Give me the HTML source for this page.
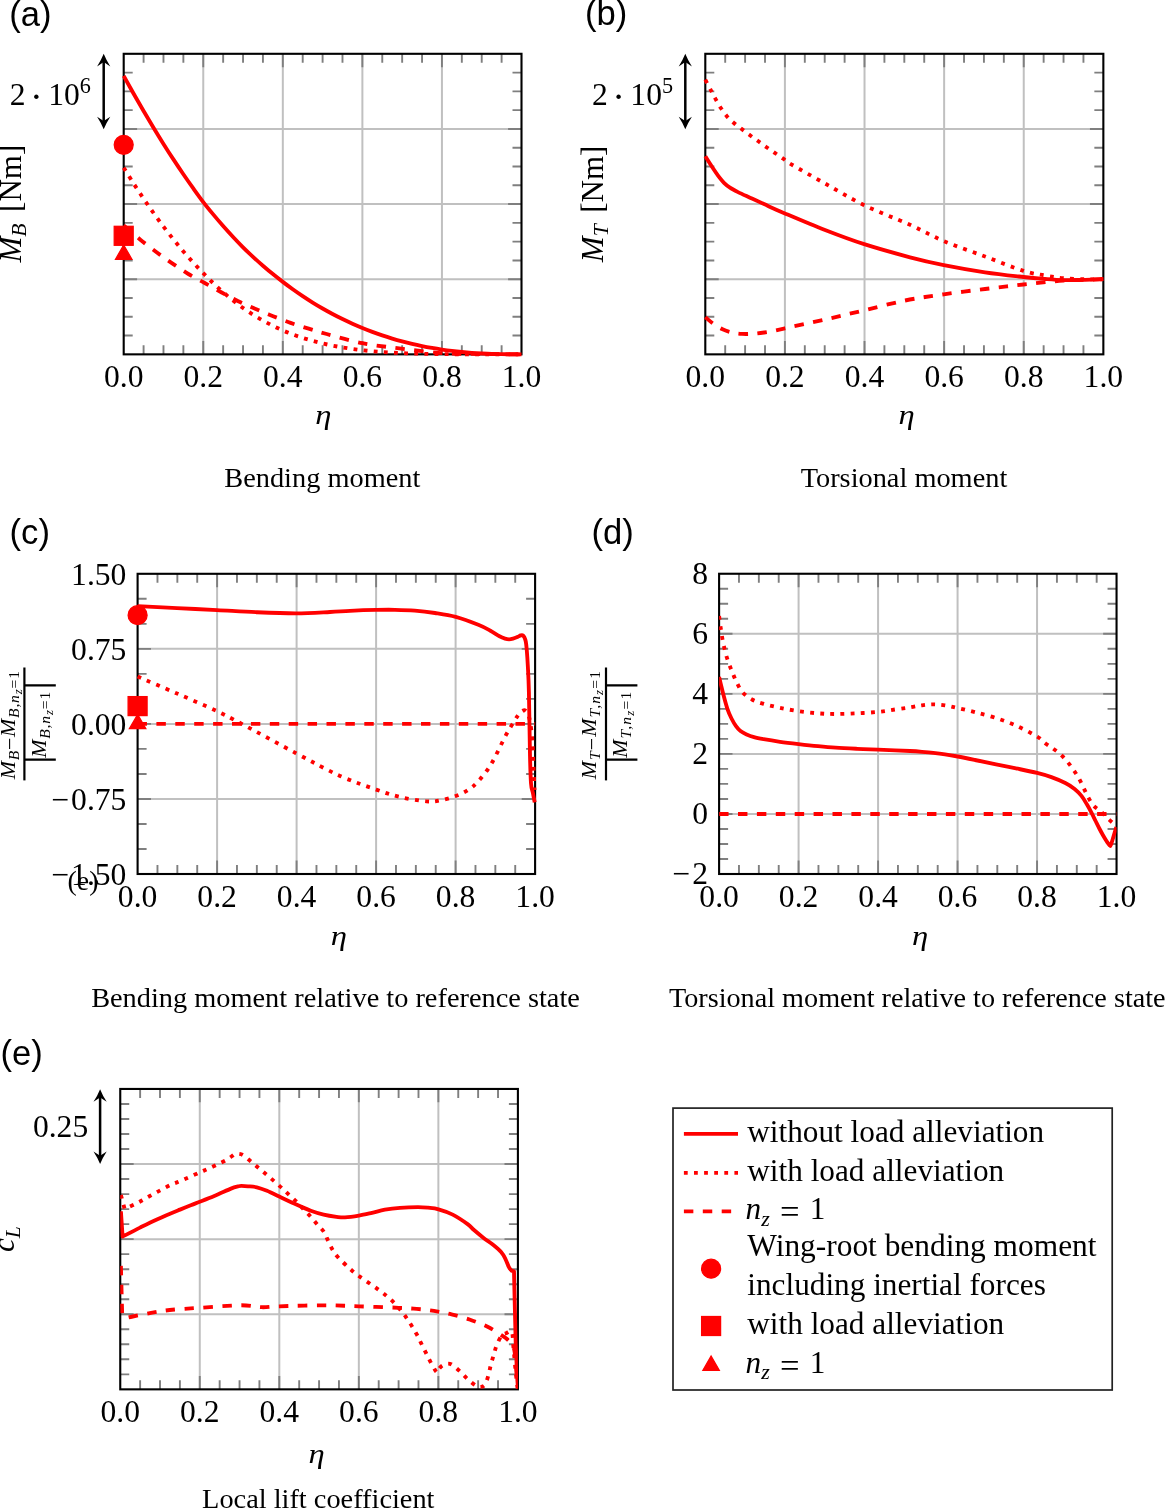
<!DOCTYPE html>
<html><head><meta charset="utf-8"><title>figure</title>
<style>html,body{margin:0;padding:0;background:#fff}svg{display:block;will-change:transform}text{fill:#000}</style></head><body>
<svg width="1166" height="1510" viewBox="0 0 1166 1510">
<rect width="1166" height="1510" fill="#fff"/>
<clipPath id="clipa"><rect x="117.7" y="47.8" width="409.8" height="312.55"/></clipPath>
<path d="M203.26 53.8V354.35M282.82 53.8V354.35M362.38 53.8V354.35M441.94 53.8V354.35M123.7 128.94H521.5M123.7 204.07H521.5M123.7 279.21H521.5" stroke="#c0c0c0" stroke-width="2" fill="none"/>
<path d="M143.59 53.8v9M143.59 354.35v-9M163.48 53.8v9M163.48 354.35v-9M183.37 53.8v9M183.37 354.35v-9M203.26 53.8v13.4M203.26 354.35v-13.4M223.15 53.8v9M223.15 354.35v-9M243.04 53.8v9M243.04 354.35v-9M262.93 53.8v9M262.93 354.35v-9M282.82 53.8v13.4M282.82 354.35v-13.4M302.71 53.8v9M302.71 354.35v-9M322.6 53.8v9M322.6 354.35v-9M342.49 53.8v9M342.49 354.35v-9M362.38 53.8v13.4M362.38 354.35v-13.4M382.27 53.8v9M382.27 354.35v-9M402.16 53.8v9M402.16 354.35v-9M422.05 53.8v9M422.05 354.35v-9M441.94 53.8v13.4M441.94 354.35v-13.4M461.83 53.8v9M461.83 354.35v-9M481.72 53.8v9M481.72 354.35v-9M501.61 53.8v9M501.61 354.35v-9M123.7 72.58h9M521.5 72.58h-9M123.7 91.37h9M521.5 91.37h-9M123.7 110.15h9M521.5 110.15h-9M123.7 128.94h13.4M521.5 128.94h-13.4M123.7 147.72h9M521.5 147.72h-9M123.7 166.51h9M521.5 166.51h-9M123.7 185.29h9M521.5 185.29h-9M123.7 204.07h13.4M521.5 204.07h-13.4M123.7 222.86h9M521.5 222.86h-9M123.7 241.64h9M521.5 241.64h-9M123.7 260.43h9M521.5 260.43h-9M123.7 279.21h13.4M521.5 279.21h-13.4M123.7 298h9M521.5 298h-9M123.7 316.78h9M521.5 316.78h-9M123.7 335.57h9M521.5 335.57h-9" stroke="#7f7f7f" stroke-width="1.9" fill="none"/>
<rect x="123.7" y="53.8" width="397.8" height="300.55" fill="none" stroke="#000" stroke-width="2.1"/>
<path d="M123.7 75.85 C125.36 78.82 130.33 87.83 133.65 93.69 C136.96 99.55 140.28 105.32 143.59 111 C146.91 116.67 150.22 122.26 153.53 127.74 C156.85 133.23 160.17 138.64 163.48 143.92 C166.8 149.2 170.11 154.35 173.43 159.4 C176.74 164.46 180.06 169.41 183.37 174.26 C186.69 179.1 190 183.85 193.31 188.48 C196.63 193.11 199.94 197.74 203.26 202.06 C206.57 206.37 209.89 210.38 213.21 214.37 C216.52 218.36 219.84 222.23 223.15 225.99 C226.47 229.76 229.78 233.41 233.1 236.95 C236.41 240.5 239.73 243.97 243.04 247.28 C246.36 250.58 249.67 253.72 252.99 256.79 C256.3 259.86 259.62 262.83 262.93 265.71 C266.25 268.59 269.56 271.37 272.88 274.06 C276.19 276.75 279.5 279.33 282.82 281.86 C286.13 284.4 289.45 286.88 292.76 289.27 C296.08 291.65 299.4 293.94 302.71 296.16 C306.03 298.38 309.34 300.51 312.65 302.57 C315.97 304.63 319.29 306.61 322.6 308.51 C325.92 310.42 329.23 312.24 332.55 314 C335.86 315.76 339.18 317.44 342.49 319.06 C345.81 320.67 349.12 322.22 352.44 323.7 C355.75 325.18 359.06 326.58 362.38 327.94 C365.69 329.3 369.01 330.61 372.32 331.85 C375.64 333.09 378.95 334.26 382.27 335.38 C385.58 336.5 388.9 337.55 392.22 338.55 C395.53 339.55 398.84 340.49 402.16 341.38 C405.47 342.26 408.79 343.09 412.1 343.87 C415.42 344.66 418.74 345.38 422.05 346.06 C425.37 346.74 428.68 347.36 432 347.95 C435.31 348.53 438.62 349.06 441.94 349.55 C445.25 350.04 448.57 350.49 451.88 350.89 C455.2 351.29 458.51 351.65 461.83 351.98 C465.14 352.3 468.46 352.58 471.77 352.83 C475.09 353.08 478.41 353.29 481.72 353.47 C485.04 353.65 488.35 353.8 491.67 353.92 C494.98 354.04 498.29 354.12 501.61 354.19 C504.92 354.26 508.24 354.29 511.56 354.32 C514.87 354.35 519.84 354.35 521.5 354.35" fill="none" stroke="#ff0000" stroke-width="3.85" clip-path="url(#clipa)" stroke-linejoin="round"/>
<path d="M123.7 167.65 C125.36 170.3 130.33 178.4 133.65 183.57 C136.96 188.74 140.28 193.76 143.59 198.66 C146.91 203.57 150.22 208.34 153.53 213 C156.85 217.66 160.17 222.2 163.48 226.6 C166.8 231.01 170.11 235.28 173.43 239.42 C176.74 243.56 180.06 247.57 183.37 251.45 C186.69 255.33 190 259.07 193.31 262.69 C196.63 266.3 199.94 269.72 203.26 273.13 C206.57 276.53 209.89 279.93 213.21 283.12 C216.52 286.3 219.84 289.34 223.15 292.24 C226.47 295.14 229.78 297.9 233.1 300.53 C236.41 303.16 239.73 305.66 243.04 308.01 C246.36 310.36 249.67 312.53 252.99 314.62 C256.3 316.7 259.62 318.67 262.93 320.54 C266.25 322.4 269.56 324.15 272.88 325.81 C276.19 327.47 279.5 329.03 282.82 330.47 C286.13 331.91 289.45 333.2 292.76 334.44 C296.08 335.67 299.4 336.81 302.71 337.88 C306.03 338.95 309.34 339.93 312.65 340.86 C315.97 341.78 319.29 342.63 322.6 343.42 C325.92 344.2 329.23 344.92 332.55 345.58 C335.86 346.24 339.18 346.85 342.49 347.4 C345.81 347.96 349.12 348.46 352.44 348.93 C355.75 349.39 359.06 349.81 362.38 350.18 C365.69 350.56 369.01 350.87 372.32 351.17 C375.64 351.47 378.95 351.73 382.27 351.97 C385.58 352.21 388.9 352.42 392.22 352.61 C395.53 352.8 398.84 352.96 402.16 353.11 C405.47 353.25 408.79 353.38 412.1 353.49 C415.42 353.6 418.74 353.69 422.05 353.77 C425.37 353.85 428.68 353.92 432 353.98 C435.31 354.04 438.62 354.08 441.94 354.12 C445.25 354.16 448.57 354.2 451.88 354.22 C455.2 354.25 458.51 354.27 461.83 354.28 C465.14 354.3 468.46 354.31 471.77 354.32 C475.09 354.33 478.41 354.33 481.72 354.34 C485.04 354.34 488.35 354.34 491.67 354.35 C494.98 354.35 498.29 354.35 501.61 354.35 C504.92 354.35 508.24 354.35 511.56 354.35 C514.87 354.35 519.84 354.35 521.5 354.35" fill="none" stroke="#ff0000" stroke-width="3.85" stroke-dasharray="3.85 6.3" clip-path="url(#clipa)" stroke-linejoin="round"/>
<path d="M123.7 225.6 C125.25 226.88 129.87 230.67 133 233.3 C136.13 235.93 138.52 238.2 142.5 241.4 C146.48 244.6 151.95 248.85 156.9 252.5 C161.85 256.15 166.95 259.72 172.2 263.3 C177.45 266.88 182.98 270.72 188.4 274 C193.82 277.28 199.15 279.92 204.7 283 C210.25 286.08 216.12 289.47 221.7 292.5 C227.28 295.53 232.53 298.45 238.2 301.2 C243.87 303.95 249.88 306.5 255.7 309 C261.52 311.5 267.28 313.88 273.1 316.2 C278.92 318.52 284.67 320.82 290.6 322.9 C296.53 324.98 302.68 326.85 308.7 328.7 C314.72 330.55 317.77 331.58 326.7 334 C335.63 336.42 349.9 340.77 362.3 343.2 C374.7 345.63 387.73 346.95 401.1 348.6 C414.47 350.25 429.02 352.2 442.5 353.1 C455.98 354 468.83 353.8 482 354 C495.17 354.2 514.92 354.25 521.5 354.3" fill="none" stroke="#ff0000" stroke-width="3.85" stroke-dasharray="9.45 9.45" clip-path="url(#clipa)" stroke-linejoin="round"/>
<circle cx="123.7" cy="144.8" r="9.5" fill="#ff0000" stroke="#ff0000" stroke-width="1.25"/>
<path d="M123.7 245L131.93 259.25L115.47 259.25Z" fill="#ff0000" stroke="#ff0000" stroke-width="1.25"/>
<rect x="114.2" y="226.3" width="19" height="19" fill="#ff0000" stroke="#ff0000" stroke-width="1.25"/>
<text x="123.7" y="386.8" font-family='"Liberation Serif", serif' font-size="31.6" text-anchor="middle">0.0</text>
<text x="203.26" y="386.8" font-family='"Liberation Serif", serif' font-size="31.6" text-anchor="middle">0.2</text>
<text x="282.82" y="386.8" font-family='"Liberation Serif", serif' font-size="31.6" text-anchor="middle">0.4</text>
<text x="362.38" y="386.8" font-family='"Liberation Serif", serif' font-size="31.6" text-anchor="middle">0.6</text>
<text x="441.94" y="386.8" font-family='"Liberation Serif", serif' font-size="31.6" text-anchor="middle">0.8</text>
<text x="521.5" y="386.8" font-family='"Liberation Serif", serif' font-size="31.6" text-anchor="middle">1.0</text>
<text transform="translate(323.3 424.3) scale(1.16 1)" font-family='"Liberation Serif", serif' font-size="28.2" font-style="italic" text-anchor="middle">η</text>
<text x="322.3" y="486.6" font-family='"Liberation Serif", serif' font-size="28.35" text-anchor="middle">Bending moment</text>
<text x="9.3" y="25.5" font-family='"Liberation Sans", sans-serif' font-size="34.6" text-anchor="start">(a)</text>
<text x="9.7" y="105" font-family='"Liberation Serif", serif' font-size="31.6">2<tspan dx="4.6" dy="4.4" font-size="38">·</tspan><tspan dx="5.4" dy="-4.4">10</tspan><tspan dy="-12" font-size="22.2">6</tspan></text>
<path d="M103.7 57.8V125.3" stroke="#000" stroke-width="2.5"/>
<path d="M103.7 53.8 Q101.1 60.3 97.1 66.4 L103.7 62 L110.3 66.4 Q106.3 60.3 103.7 53.8Z" fill="#000"/>
<path d="M103.7 129.3 Q101.1 122.8 97.1 116.7 L103.7 121.1 L110.3 116.7 Q106.3 122.8 103.7 129.3Z" fill="#000"/>
<text transform="translate(21.3 262.5) rotate(-90)" font-family='"Liberation Serif", serif' font-size="31"><tspan font-style="italic">M</tspan><tspan font-style="italic" font-size="21.7" dy="5">B</tspan><tspan dy="-5" dx="3.8"> [Nm]</tspan></text>
<clipPath id="clipb"><rect x="699.3" y="47.8" width="410.05" height="312.55"/></clipPath>
<path d="M784.91 53.8V354.35M864.52 53.8V354.35M944.13 53.8V354.35M1023.74 53.8V354.35M705.3 128.94H1103.35M705.3 204.07H1103.35M705.3 279.21H1103.35" stroke="#c0c0c0" stroke-width="2" fill="none"/>
<path d="M725.2 53.8v9M725.2 354.35v-9M745.1 53.8v9M745.1 354.35v-9M765.01 53.8v9M765.01 354.35v-9M784.91 53.8v13.4M784.91 354.35v-13.4M804.81 53.8v9M804.81 354.35v-9M824.71 53.8v9M824.71 354.35v-9M844.62 53.8v9M844.62 354.35v-9M864.52 53.8v13.4M864.52 354.35v-13.4M884.42 53.8v9M884.42 354.35v-9M904.32 53.8v9M904.32 354.35v-9M924.23 53.8v9M924.23 354.35v-9M944.13 53.8v13.4M944.13 354.35v-13.4M964.03 53.8v9M964.03 354.35v-9M983.93 53.8v9M983.93 354.35v-9M1003.84 53.8v9M1003.84 354.35v-9M1023.74 53.8v13.4M1023.74 354.35v-13.4M1043.64 53.8v9M1043.64 354.35v-9M1063.54 53.8v9M1063.54 354.35v-9M1083.45 53.8v9M1083.45 354.35v-9M705.3 72.58h9M1103.35 72.58h-9M705.3 91.37h9M1103.35 91.37h-9M705.3 110.15h9M1103.35 110.15h-9M705.3 128.94h13.4M1103.35 128.94h-13.4M705.3 147.72h9M1103.35 147.72h-9M705.3 166.51h9M1103.35 166.51h-9M705.3 185.29h9M1103.35 185.29h-9M705.3 204.07h13.4M1103.35 204.07h-13.4M705.3 222.86h9M1103.35 222.86h-9M705.3 241.64h9M1103.35 241.64h-9M705.3 260.43h9M1103.35 260.43h-9M705.3 279.21h13.4M1103.35 279.21h-13.4M705.3 298h9M1103.35 298h-9M705.3 316.78h9M1103.35 316.78h-9M705.3 335.57h9M1103.35 335.57h-9" stroke="#7f7f7f" stroke-width="1.9" fill="none"/>
<rect x="705.3" y="53.8" width="398.05" height="300.55" fill="none" stroke="#000" stroke-width="2.1"/>
<path d="M705.3 79.7 C706.28 81.57 709.43 87.58 711.2 90.9 C712.97 94.22 714.27 96.72 715.9 99.6 C717.53 102.48 719.15 105.4 721 108.2 C722.85 111 724.8 113.88 727 116.4 C729.2 118.92 731.67 121.13 734.2 123.3 C736.73 125.47 739.52 127.37 742.2 129.4 C744.88 131.43 747.6 133.52 750.3 135.5 C753 137.48 755.7 139.35 758.4 141.3 C761.1 143.25 763.77 145.27 766.5 147.2 C769.23 149.13 772.02 150.98 774.8 152.9 C777.58 154.82 780.45 156.8 783.2 158.7 C785.95 160.6 784.33 160.17 791.3 164.3 C798.27 168.43 812.85 176.68 825 183.5 C837.15 190.32 850.03 198.32 864.2 205.2 C878.37 212.08 896.73 218.82 910 224.8 C923.27 230.78 931.3 235.82 943.8 241.1 C956.3 246.38 971.72 251.53 985 256.5 C998.28 261.47 1013.5 267.73 1023.5 270.9 C1033.5 274.07 1038.37 274.28 1045 275.5 C1051.63 276.72 1056.63 277.57 1063.3 278.2 C1069.97 278.83 1078.33 279.13 1085 279.3 C1091.67 279.47 1100.25 279.22 1103.3 279.2" fill="none" stroke="#ff0000" stroke-width="3.85" stroke-dasharray="3.85 6.3" clip-path="url(#clipb)" stroke-linejoin="round"/>
<path d="M705.3 156.2 C706.42 157.95 709.72 163.25 712 166.7 C714.28 170.15 717 174.22 719 176.9 C721 179.58 722.17 181 724 182.8 C725.83 184.6 727.67 186.15 730 187.7 C732.33 189.25 734.67 190.43 738 192.1 C741.33 193.77 745.67 195.7 750 197.7 C754.33 199.7 758.18 201.48 764 204.1 C769.82 206.72 774.73 209.08 784.9 213.4 C795.07 217.72 811.78 224.87 825 230 C838.22 235.13 850.03 239.65 864.2 244.2 C878.37 248.75 896.73 253.82 910 257.3 C923.27 260.78 931.3 262.6 943.8 265.1 C956.3 267.6 971.72 270.32 985 272.3 C998.28 274.28 1013.5 275.88 1023.5 277 C1033.5 278.12 1038.37 278.48 1045 279 C1051.63 279.52 1056.63 279.97 1063.3 280.1 C1069.97 280.23 1078.33 279.98 1085 279.8 C1091.67 279.62 1100.25 279.13 1103.3 279" fill="none" stroke="#ff0000" stroke-width="3.85" clip-path="url(#clipb)" stroke-linejoin="round"/>
<path d="M705.3 317.2 C706.58 318.25 710.22 321.53 713 323.5 C715.78 325.47 718.83 327.5 722 329 C725.17 330.5 728.67 331.68 732 332.5 C735.33 333.32 738.17 333.72 742 333.9 C745.83 334.08 750.33 334 755 333.6 C759.67 333.2 765.02 332.38 770 331.5 C774.98 330.62 775.73 330.3 784.9 328.3 C794.07 326.3 811.78 322.5 825 319.5 C838.22 316.5 850.83 313.47 864.2 310.3 C877.57 307.13 891.93 303.17 905.2 300.5 C918.47 297.83 930.5 296.22 943.8 294.3 C957.1 292.38 971.72 290.63 985 289 C998.28 287.37 1010.45 285.88 1023.5 284.5 C1036.55 283.12 1050 281.57 1063.3 280.7 C1076.6 279.83 1096.63 279.53 1103.3 279.3" fill="none" stroke="#ff0000" stroke-width="3.85" stroke-dasharray="9.45 9.45" clip-path="url(#clipb)" stroke-linejoin="round"/>
<text x="705.3" y="386.8" font-family='"Liberation Serif", serif' font-size="31.6" text-anchor="middle">0.0</text>
<text x="784.91" y="386.8" font-family='"Liberation Serif", serif' font-size="31.6" text-anchor="middle">0.2</text>
<text x="864.52" y="386.8" font-family='"Liberation Serif", serif' font-size="31.6" text-anchor="middle">0.4</text>
<text x="944.13" y="386.8" font-family='"Liberation Serif", serif' font-size="31.6" text-anchor="middle">0.6</text>
<text x="1023.74" y="386.8" font-family='"Liberation Serif", serif' font-size="31.6" text-anchor="middle">0.8</text>
<text x="1103.35" y="386.8" font-family='"Liberation Serif", serif' font-size="31.6" text-anchor="middle">1.0</text>
<text transform="translate(906.6 424.3) scale(1.16 1)" font-family='"Liberation Serif", serif' font-size="28.2" font-style="italic" text-anchor="middle">η</text>
<text x="904" y="486.6" font-family='"Liberation Serif", serif' font-size="28.35" text-anchor="middle">Torsional moment</text>
<text x="585" y="25.1" font-family='"Liberation Sans", sans-serif' font-size="34.6" text-anchor="start">(b)</text>
<text x="591.9" y="105" font-family='"Liberation Serif", serif' font-size="31.6">2<tspan dx="4.6" dy="4.4" font-size="38">·</tspan><tspan dx="5.4" dy="-4.4">10</tspan><tspan dy="-12" font-size="22.2">5</tspan></text>
<path d="M685.3 57.8V125.3" stroke="#000" stroke-width="2.5"/>
<path d="M685.3 53.8 Q682.7 60.3 678.7 66.4 L685.3 62 L691.9 66.4 Q687.9 60.3 685.3 53.8Z" fill="#000"/>
<path d="M685.3 129.3 Q682.7 122.8 678.7 116.7 L685.3 121.1 L691.9 116.7 Q687.9 122.8 685.3 129.3Z" fill="#000"/>
<text transform="translate(603.2 262.2) rotate(-90)" font-family='"Liberation Serif", serif' font-size="31"><tspan font-style="italic">M</tspan><tspan font-style="italic" font-size="21.7" dy="5">T</tspan><tspan dy="-5" dx="3.8"> [Nm]</tspan></text>
<clipPath id="clipc"><rect x="131.6" y="567.8" width="409.5" height="312.2"/></clipPath>
<path d="M217.1 573.8V874M296.6 573.8V874M376.1 573.8V874M455.6 573.8V874M137.6 648.85H535.1M137.6 723.9H535.1M137.6 798.95H535.1" stroke="#c0c0c0" stroke-width="2" fill="none"/>
<path d="M157.47 573.8v9M157.47 874v-9M177.35 573.8v9M177.35 874v-9M197.22 573.8v9M197.22 874v-9M217.1 573.8v13.4M217.1 874v-13.4M236.97 573.8v9M236.97 874v-9M256.85 573.8v9M256.85 874v-9M276.73 573.8v9M276.73 874v-9M296.6 573.8v13.4M296.6 874v-13.4M316.48 573.8v9M316.48 874v-9M336.35 573.8v9M336.35 874v-9M356.23 573.8v9M356.23 874v-9M376.1 573.8v13.4M376.1 874v-13.4M395.98 573.8v9M395.98 874v-9M415.85 573.8v9M415.85 874v-9M435.73 573.8v9M435.73 874v-9M455.6 573.8v13.4M455.6 874v-13.4M475.48 573.8v9M475.48 874v-9M495.35 573.8v9M495.35 874v-9M515.23 573.8v9M515.23 874v-9M137.6 598.82h9M535.1 598.82h-9M137.6 623.83h9M535.1 623.83h-9M137.6 648.85h13.4M535.1 648.85h-13.4M137.6 673.87h9M535.1 673.87h-9M137.6 698.88h9M535.1 698.88h-9M137.6 723.9h13.4M535.1 723.9h-13.4M137.6 748.92h9M535.1 748.92h-9M137.6 773.93h9M535.1 773.93h-9M137.6 798.95h13.4M535.1 798.95h-13.4M137.6 823.97h9M535.1 823.97h-9M137.6 848.98h9M535.1 848.98h-9" stroke="#7f7f7f" stroke-width="1.9" fill="none"/>
<rect x="137.6" y="573.8" width="397.5" height="300.2" fill="none" stroke="#000" stroke-width="2.1"/>
<path d="M137.6 606.2 C144.17 606.52 163.75 607.45 177 608.1 C190.25 608.75 203.93 609.42 217.1 610.1 C230.27 610.78 242.85 611.67 256 612.2 C269.15 612.73 283.67 613.33 296 613.3 C308.33 613.27 321 612.42 330 612 C339 611.58 342.3 611.15 350 610.8 C357.7 610.45 368.7 610.07 376.2 609.9 C383.7 609.73 388.57 609.68 395 609.8 C401.43 609.92 408.13 610.07 414.8 610.6 C421.47 611.13 428.18 611.95 435 613 C441.82 614.05 448.48 614.93 455.7 616.9 C462.92 618.87 472.58 622.53 478.3 624.8 C484.02 627.07 486.47 628.58 490 630.5 C493.53 632.42 497 634.95 499.5 636.3 C502 637.65 503.4 638.1 505 638.6 C506.6 639.1 507.77 639.3 509.1 639.3 C510.43 639.3 511.6 639 513 638.6 C514.4 638.2 516.23 637.43 517.5 636.9 C518.77 636.37 519.77 635.68 520.6 635.4 C521.43 635.12 521.88 634.9 522.5 635.2 C523.12 635.5 523.75 636.12 524.3 637.2 C524.85 638.28 525.38 639.5 525.8 641.7 C526.22 643.9 526.47 646.43 526.8 650.4 C527.13 654.37 527.45 658.55 527.8 665.5 C528.15 672.45 528.53 677.07 528.9 692.1 C529.27 707.13 529.65 740.5 530 755.7 C530.35 770.9 530.52 777.08 531 783.3 C531.48 789.52 532.28 789.83 532.9 793 C533.52 796.17 534.4 800.75 534.7 802.3" fill="none" stroke="#ff0000" stroke-width="3.85" clip-path="url(#clipc)" stroke-linejoin="round"/>
<path d="M137.6 676.6 C144.17 679.42 163.75 687.73 177 693.5 C190.25 699.27 206.3 706.13 217.1 711.2 C227.9 716.27 228.65 716.9 241.8 723.9 C254.95 730.9 279.63 744.53 296 753.2 C312.37 761.87 326.63 769.83 340 775.9 C353.37 781.97 366.2 786.08 376.2 789.6 C386.2 793.12 391.63 795.05 400 797 C408.37 798.95 419.73 800.72 426.4 801.3 C433.07 801.88 435.12 801.38 440 800.5 C444.88 799.62 451.03 797.75 455.7 796 C460.37 794.25 464.23 792.47 468 790 C471.77 787.53 474.45 785.5 478.3 781.2 C482.15 776.9 486.5 771.87 491.1 764.2 C495.7 756.53 502.02 742.4 505.9 735.2 C509.78 728 512.22 724.53 514.4 721 C516.58 717.47 517.6 715.7 519 714 C520.4 712.3 521.72 711.37 522.8 710.8 C523.88 710.23 524.62 710.02 525.5 710.6 C526.38 711.18 527.3 712.23 528.1 714.3 C528.9 716.37 529.58 718.57 530.3 723 C531.02 727.43 531.87 733.73 532.4 740.9 C532.93 748.07 533.15 757.82 533.5 766 C533.85 774.18 534.33 786 534.5 790" fill="none" stroke="#ff0000" stroke-width="3.85" stroke-dasharray="3.85 6.3" clip-path="url(#clipc)" stroke-linejoin="round"/>
<path d="M137.6 723.9H535.1" fill="none" stroke="#ff0000" stroke-width="3.85" stroke-dasharray="9.45 9.45" stroke-dashoffset="0.1" clip-path="url(#clipc)" stroke-linejoin="round"/>
<circle cx="137.6" cy="615.2" r="9.5" fill="#ff0000" stroke="#ff0000" stroke-width="1.25"/>
<path d="M137.6 714.4L145.83 728.65L129.37 728.65Z" fill="#ff0000" stroke="#ff0000" stroke-width="1.25"/>
<rect x="128.1" y="696.6" width="19" height="19" fill="#ff0000" stroke="#ff0000" stroke-width="1.25"/>
<text x="137.6" y="906.9" font-family='"Liberation Serif", serif' font-size="31.6" text-anchor="middle">0.0</text>
<text x="217.1" y="906.9" font-family='"Liberation Serif", serif' font-size="31.6" text-anchor="middle">0.2</text>
<text x="296.6" y="906.9" font-family='"Liberation Serif", serif' font-size="31.6" text-anchor="middle">0.4</text>
<text x="376.1" y="906.9" font-family='"Liberation Serif", serif' font-size="31.6" text-anchor="middle">0.6</text>
<text x="455.6" y="906.9" font-family='"Liberation Serif", serif' font-size="31.6" text-anchor="middle">0.8</text>
<text x="535.1" y="906.9" font-family='"Liberation Serif", serif' font-size="31.6" text-anchor="middle">1.0</text>
<text x="126.4" y="584.7" font-family='"Liberation Serif", serif' font-size="31.6" text-anchor="end">1.50</text>
<text x="126.4" y="659.7" font-family='"Liberation Serif", serif' font-size="31.6" text-anchor="end">0.75</text>
<text x="126.4" y="734.7" font-family='"Liberation Serif", serif' font-size="31.6" text-anchor="end">0.00</text>
<text x="126.4" y="809.7" font-family='"Liberation Serif", serif' font-size="31.6" text-anchor="end">−<tspan dx="1.8">0.75</tspan></text>
<text x="126.4" y="884.7" font-family='"Liberation Serif", serif' font-size="31.6" text-anchor="end">−<tspan dx="1.8">1.50</tspan></text>
<text transform="translate(338.8 944.5) scale(1.16 1)" font-family='"Liberation Serif", serif' font-size="28.2" font-style="italic" text-anchor="middle">η</text>
<text x="335.5" y="1006.6" font-family='"Liberation Serif", serif' font-size="28.35" text-anchor="middle">Bending moment relative to reference state</text>
<text x="9.6" y="543.5" font-family='"Liberation Sans", sans-serif' font-size="34.6" text-anchor="start">(c)</text>
<text x="67.6" y="889.8" font-family='"Liberation Serif", serif' font-size="27.8" text-anchor="start">(e)</text>
<path d="M24.4 667.5V780.4" stroke="#000" stroke-width="2.2"/>
<path d="M24.4 685.4H55.8 M24.4 759.7H55.8" stroke="#000" stroke-width="2.2"/>
<text transform="translate(14.8 779.3) rotate(-90)" font-family='"Liberation Serif", serif' font-size="21.8" font-style="italic" textLength="108.3">M<tspan font-size="15.6" dy="4">B</tspan><tspan dy="-1.5" font-style="normal">−</tspan><tspan dy="-2.5">M</tspan><tspan font-size="15.6" dy="4">B,n</tspan><tspan font-size="13" dy="3">z</tspan><tspan font-size="15.6" dy="-3" font-style="normal">=1</tspan></text>
<text transform="translate(45.6 757.8) rotate(-90)" font-family='"Liberation Serif", serif' font-size="21.8" font-style="italic" textLength="66">M<tspan font-size="15.6" dy="4">B,n</tspan><tspan font-size="13" dy="3">z</tspan><tspan font-size="15.6" dy="-3" font-style="normal">=1</tspan></text>
<clipPath id="clipd"><rect x="719.1" y="573.75" width="397.45" height="300.25"/></clipPath>
<path d="M798.59 573.75V874M878.08 573.75V874M957.57 573.75V874M1037.06 573.75V874M719.1 633.8H1116.55M719.1 693.85H1116.55M719.1 753.9H1116.55M719.1 813.95H1116.55" stroke="#c0c0c0" stroke-width="2" fill="none"/>
<path d="M738.97 573.75v9M738.97 874v-9M758.85 573.75v9M758.85 874v-9M778.72 573.75v9M778.72 874v-9M798.59 573.75v13.4M798.59 874v-13.4M818.46 573.75v9M818.46 874v-9M838.34 573.75v9M838.34 874v-9M858.21 573.75v9M858.21 874v-9M878.08 573.75v13.4M878.08 874v-13.4M897.95 573.75v9M897.95 874v-9M917.83 573.75v9M917.83 874v-9M937.7 573.75v9M937.7 874v-9M957.57 573.75v13.4M957.57 874v-13.4M977.44 573.75v9M977.44 874v-9M997.31 573.75v9M997.31 874v-9M1017.19 573.75v9M1017.19 874v-9M1037.06 573.75v13.4M1037.06 874v-13.4M1056.93 573.75v9M1056.93 874v-9M1076.8 573.75v9M1076.8 874v-9M1096.68 573.75v9M1096.68 874v-9M719.1 588.76h9M1116.55 588.76h-9M719.1 603.77h9M1116.55 603.77h-9M719.1 618.79h9M1116.55 618.79h-9M719.1 633.8h13.4M1116.55 633.8h-13.4M719.1 648.81h9M1116.55 648.81h-9M719.1 663.83h9M1116.55 663.83h-9M719.1 678.84h9M1116.55 678.84h-9M719.1 693.85h13.4M1116.55 693.85h-13.4M719.1 708.86h9M1116.55 708.86h-9M719.1 723.88h9M1116.55 723.88h-9M719.1 738.89h9M1116.55 738.89h-9M719.1 753.9h13.4M1116.55 753.9h-13.4M719.1 768.91h9M1116.55 768.91h-9M719.1 783.92h9M1116.55 783.92h-9M719.1 798.94h9M1116.55 798.94h-9M719.1 813.95h13.4M1116.55 813.95h-13.4M719.1 828.96h9M1116.55 828.96h-9M719.1 843.97h9M1116.55 843.97h-9M719.1 858.99h9M1116.55 858.99h-9" stroke="#7f7f7f" stroke-width="1.9" fill="none"/>
<rect x="719.1" y="573.75" width="397.45" height="300.25" fill="none" stroke="#000" stroke-width="2.1"/>
<path d="M719.1 616 C719.42 618.33 720.3 625.43 721 630 C721.7 634.57 722.3 638.73 723.3 643.4 C724.3 648.07 725.58 653.4 727 658 C728.42 662.6 730.22 667 731.8 671 C733.38 675 734.73 678.48 736.5 682 C738.27 685.52 739.82 689.18 742.4 692.1 C744.98 695.02 748.47 697.55 752 699.5 C755.53 701.45 758.93 702.42 763.6 703.8 C768.27 705.18 774.17 706.57 780 707.8 C785.83 709.03 792.27 710.28 798.6 711.2 C804.93 712.12 811.83 712.83 818 713.3 C824.17 713.77 829.1 714 835.6 714 C842.1 714 849.93 713.65 857 713.3 C864.07 712.95 871.67 712.53 878 711.9 C884.33 711.27 889.67 710.25 895 709.5 C900.33 708.75 905.5 708.1 910 707.4 C914.5 706.7 918.12 705.8 922 705.3 C925.88 704.8 929.47 704.4 933.3 704.4 C937.13 704.4 940.93 704.7 945 705.3 C949.07 705.9 952.7 706.85 957.7 708 C962.7 709.15 968.82 710.6 975 712.2 C981.18 713.8 987.97 715.38 994.8 717.6 C1001.63 719.82 1008.95 722.33 1016 725.5 C1023.05 728.67 1032.23 733.65 1037.1 736.6 C1041.97 739.55 1042.53 741.2 1045.2 743.2 C1047.87 745.2 1050.45 746.65 1053.1 748.6 C1055.75 750.55 1058.65 752.62 1061.1 754.9 C1063.55 757.18 1065.65 759.68 1067.8 762.3 C1069.95 764.92 1072.1 767.82 1074 770.6 C1075.9 773.38 1077.58 776.08 1079.2 779 C1080.82 781.92 1082.22 785.08 1083.7 788.1 C1085.18 791.12 1086.47 794.18 1088.1 797.1 C1089.73 800.02 1091.38 803.2 1093.5 805.6 C1095.62 808 1098.3 809.25 1100.8 811.5 C1103.3 813.75 1105.87 816.68 1108.5 819.1 C1111.13 821.52 1115.25 824.85 1116.6 826" fill="none" stroke="#ff0000" stroke-width="3.85" stroke-dasharray="3.85 6.3" clip-path="url(#clipd)" stroke-linejoin="round"/>
<path d="M719.1 677 C719.42 678.33 720.27 682 721 685 C721.73 688 722.42 690.98 723.5 695 C724.58 699.02 726.17 705.18 727.5 709.1 C728.83 713.02 730.08 715.67 731.5 718.5 C732.92 721.33 734.5 724.02 736 726.1 C737.5 728.18 738.73 729.6 740.5 731 C742.27 732.4 744.35 733.47 746.6 734.5 C748.85 735.53 751.17 736.42 754 737.2 C756.83 737.98 759.27 738.43 763.6 739.2 C767.93 739.97 774.17 740.98 780 741.8 C785.83 742.62 792.27 743.37 798.6 744.1 C804.93 744.83 811.83 745.6 818 746.2 C824.17 746.8 829.1 747.27 835.6 747.7 C842.1 748.13 849.93 748.48 857 748.8 C864.07 749.12 871.67 749.35 878 749.6 C884.33 749.85 889.67 750.07 895 750.3 C900.33 750.53 905.5 750.75 910 751 C914.5 751.25 918.12 751.5 922 751.8 C925.88 752.1 929.47 752.38 933.3 752.8 C937.13 753.22 940.93 753.68 945 754.3 C949.07 754.92 952.7 755.55 957.7 756.5 C962.7 757.45 968.82 758.72 975 760 C981.18 761.28 987.97 762.8 994.8 764.2 C1001.63 765.6 1008.95 766.95 1016 768.4 C1023.05 769.85 1031.2 771.45 1037.1 772.9 C1043 774.35 1046.7 775.42 1051.4 777.1 C1056.1 778.78 1061.43 781.03 1065.3 783 C1069.17 784.97 1071.9 786.75 1074.6 788.9 C1077.3 791.05 1079.43 793.28 1081.5 795.9 C1083.57 798.52 1085.3 801.73 1087 804.6 C1088.7 807.47 1090.27 810.37 1091.7 813.1 C1093.13 815.83 1094.28 818.35 1095.6 821 C1096.92 823.65 1098.37 826.63 1099.6 829 C1100.83 831.37 1101.93 833.33 1103 835.2 C1104.07 837.07 1105.12 838.78 1106 840.2 C1106.88 841.62 1107.7 842.85 1108.3 843.7 C1108.9 844.55 1109.38 845.03 1109.6 845.3 L1109.6 845.3 L1110.3 845.9 L1111.2 844.2 L1116.3 827" fill="none" stroke="#ff0000" stroke-width="3.85" clip-path="url(#clipd)" stroke-linejoin="round"/>
<path d="M719.1 813.95H1116.55" fill="none" stroke="#ff0000" stroke-width="3.85" stroke-dasharray="9.45 9.45" clip-path="url(#clipd)" stroke-linejoin="round"/>
<text x="719.1" y="906.9" font-family='"Liberation Serif", serif' font-size="31.6" text-anchor="middle">0.0</text>
<text x="798.59" y="906.9" font-family='"Liberation Serif", serif' font-size="31.6" text-anchor="middle">0.2</text>
<text x="878.08" y="906.9" font-family='"Liberation Serif", serif' font-size="31.6" text-anchor="middle">0.4</text>
<text x="957.57" y="906.9" font-family='"Liberation Serif", serif' font-size="31.6" text-anchor="middle">0.6</text>
<text x="1037.06" y="906.9" font-family='"Liberation Serif", serif' font-size="31.6" text-anchor="middle">0.8</text>
<text x="1116.55" y="906.9" font-family='"Liberation Serif", serif' font-size="31.6" text-anchor="middle">1.0</text>
<text x="708" y="584.4" font-family='"Liberation Serif", serif' font-size="31.6" text-anchor="end">8</text>
<text x="708" y="644.4" font-family='"Liberation Serif", serif' font-size="31.6" text-anchor="end">6</text>
<text x="708" y="704.4" font-family='"Liberation Serif", serif' font-size="31.6" text-anchor="end">4</text>
<text x="708" y="764.4" font-family='"Liberation Serif", serif' font-size="31.6" text-anchor="end">2</text>
<text x="708" y="824.4" font-family='"Liberation Serif", serif' font-size="31.6" text-anchor="end">0</text>
<text x="708" y="884.4" font-family='"Liberation Serif", serif' font-size="31.6" text-anchor="end">−<tspan dx="1.8">2</tspan></text>
<text transform="translate(920.1 944.5) scale(1.16 1)" font-family='"Liberation Serif", serif' font-size="28.2" font-style="italic" text-anchor="middle">η</text>
<text x="669" y="1006.6" font-family='"Liberation Serif", serif' font-size="28.2" text-anchor="start">Torsional moment relative to reference state</text>
<text x="591.4" y="543.5" font-family='"Liberation Sans", sans-serif' font-size="34.6" text-anchor="start">(d)</text>
<path d="M606 667.5V780.4" stroke="#000" stroke-width="2.2"/>
<path d="M606 685.4H637.4 M606 759.7H637.4" stroke="#000" stroke-width="2.2"/>
<text transform="translate(596.4 779.3) rotate(-90)" font-family='"Liberation Serif", serif' font-size="21.8" font-style="italic" textLength="108.3">M<tspan font-size="15.6" dy="4">T</tspan><tspan dy="-1.5" font-style="normal">−</tspan><tspan dy="-2.5">M</tspan><tspan font-size="15.6" dy="4">T,n</tspan><tspan font-size="13" dy="3">z</tspan><tspan font-size="15.6" dy="-3" font-style="normal">=1</tspan></text>
<text transform="translate(627.2 757.8) rotate(-90)" font-family='"Liberation Serif", serif' font-size="21.8" font-style="italic" textLength="66">M<tspan font-size="15.6" dy="4">T,n</tspan><tspan font-size="13" dy="3">z</tspan><tspan font-size="15.6" dy="-3" font-style="normal">=1</tspan></text>
<clipPath id="clipe"><rect x="120.25" y="1088.95" width="397.65" height="300.4"/></clipPath>
<path d="M199.78 1088.95V1389.35M279.31 1088.95V1389.35M358.84 1088.95V1389.35M438.37 1088.95V1389.35M120.25 1164.05H517.9M120.25 1239.15H517.9M120.25 1314.25H517.9" stroke="#c0c0c0" stroke-width="2" fill="none"/>
<path d="M140.13 1088.95v9M140.13 1389.35v-9M160.01 1088.95v9M160.01 1389.35v-9M179.9 1088.95v9M179.9 1389.35v-9M199.78 1088.95v13.4M199.78 1389.35v-13.4M219.66 1088.95v9M219.66 1389.35v-9M239.55 1088.95v9M239.55 1389.35v-9M259.43 1088.95v9M259.43 1389.35v-9M279.31 1088.95v13.4M279.31 1389.35v-13.4M299.19 1088.95v9M299.19 1389.35v-9M319.07 1088.95v9M319.07 1389.35v-9M338.96 1088.95v9M338.96 1389.35v-9M358.84 1088.95v13.4M358.84 1389.35v-13.4M378.72 1088.95v9M378.72 1389.35v-9M398.61 1088.95v9M398.61 1389.35v-9M418.49 1088.95v9M418.49 1389.35v-9M438.37 1088.95v13.4M438.37 1389.35v-13.4M458.25 1088.95v9M458.25 1389.35v-9M478.13 1088.95v9M478.13 1389.35v-9M498.02 1088.95v9M498.02 1389.35v-9M120.25 1103.97h9M517.9 1103.97h-9M120.25 1118.99h9M517.9 1118.99h-9M120.25 1134.01h9M517.9 1134.01h-9M120.25 1149.03h9M517.9 1149.03h-9M120.25 1164.05h13.4M517.9 1164.05h-13.4M120.25 1179.07h9M517.9 1179.07h-9M120.25 1194.09h9M517.9 1194.09h-9M120.25 1209.11h9M517.9 1209.11h-9M120.25 1224.13h9M517.9 1224.13h-9M120.25 1239.15h13.4M517.9 1239.15h-13.4M120.25 1254.17h9M517.9 1254.17h-9M120.25 1269.19h9M517.9 1269.19h-9M120.25 1284.21h9M517.9 1284.21h-9M120.25 1299.23h9M517.9 1299.23h-9M120.25 1314.25h13.4M517.9 1314.25h-13.4M120.25 1329.27h9M517.9 1329.27h-9M120.25 1344.29h9M517.9 1344.29h-9M120.25 1359.31h9M517.9 1359.31h-9M120.25 1374.33h9M517.9 1374.33h-9" stroke="#7f7f7f" stroke-width="1.9" fill="none"/>
<rect x="120.25" y="1088.95" width="397.65" height="300.4" fill="none" stroke="#000" stroke-width="2.1"/>
<path d="M120.9 1211.3 L122.6 1236.6 C125.5 1235.1 134.1 1230.55 140 1227.6 C145.9 1224.65 151.33 1221.9 158 1218.9 C164.67 1215.9 173.83 1212.15 180 1209.6 C186.17 1207.05 189.28 1205.87 195 1203.6 C200.72 1201.33 208.3 1198.5 214.3 1196 C220.3 1193.5 227.05 1190.2 231 1188.6 C234.95 1187 236.28 1186.85 238 1186.4 C239.72 1185.95 239.63 1185.92 241.3 1185.9 C242.97 1185.88 245.42 1186.07 248 1186.3 C250.58 1186.53 253.63 1186.55 256.8 1187.3 C259.97 1188.05 263.25 1189.25 267 1190.8 C270.75 1192.35 275 1194.57 279.3 1196.6 C283.6 1198.63 287.55 1200.63 292.8 1203 C298.05 1205.37 305.67 1208.87 310.8 1210.8 C315.93 1212.73 319.32 1213.6 323.6 1214.6 C327.88 1215.6 332.93 1216.33 336.5 1216.8 C340.07 1217.27 341.27 1217.6 345 1217.4 C348.73 1217.2 354.4 1216.37 358.9 1215.6 C363.4 1214.83 367.67 1213.78 372 1212.8 C376.33 1211.82 380.23 1210.53 384.9 1209.7 C389.57 1208.87 394.52 1208.23 400 1207.8 C405.48 1207.37 413.13 1207.12 417.8 1207.1 C422.47 1207.08 424.55 1207.33 428 1207.7 C431.45 1208.07 434.38 1208.15 438.5 1209.3 C442.62 1210.45 447.85 1212.13 452.7 1214.6 C457.55 1217.07 464.05 1221.53 467.6 1224.1 C471.15 1226.67 471.23 1227.62 474 1230 C476.77 1232.38 481.18 1236.05 484.2 1238.4 C487.22 1240.75 489.28 1241.83 492.1 1244.1 C494.92 1246.37 498.85 1249.47 501.1 1252 C503.35 1254.53 504.3 1256.77 505.6 1259.3 C506.9 1261.83 507.92 1265.32 508.9 1267.2 C509.88 1269.08 511.07 1270.03 511.5 1270.6 L511.5 1270.6 L514 1271.4 L514.6 1297.6 L515.7 1342.6 L517.1 1376.4 L518 1388.8" fill="none" stroke="#ff0000" stroke-width="3.85" clip-path="url(#clipe)" stroke-linejoin="round"/>
<path d="M120.9 1194.9 L124.6 1208.8 C126.45 1207.97 132.35 1205.45 135.7 1203.8 C139.05 1202.15 141.72 1200.55 144.7 1198.9 C147.68 1197.25 150.7 1195.48 153.6 1193.9 C156.5 1192.32 159.12 1190.97 162.1 1189.4 C165.08 1187.83 168.52 1185.87 171.5 1184.5 C174.48 1183.13 175.43 1183.15 180 1181.2 C184.57 1179.25 194.25 1174.85 198.9 1172.8 C203.55 1170.75 204.8 1170.3 207.9 1168.9 C211 1167.5 214.4 1165.9 217.5 1164.4 C220.6 1162.9 224.17 1161.22 226.5 1159.9 C228.83 1158.58 230.1 1157.45 231.5 1156.5 C232.9 1155.55 233.57 1154.63 234.9 1154.2 C236.23 1153.77 238 1153.65 239.5 1153.9 C241 1154.15 241.88 1154.33 243.9 1155.7 C245.92 1157.07 249.03 1159.95 251.6 1162.1 C254.17 1164.25 256.73 1166.45 259.3 1168.6 C261.87 1170.75 264.42 1172.8 267 1175 C269.58 1177.2 272.22 1179.53 274.8 1181.8 C277.38 1184.07 280.03 1186.35 282.5 1188.6 C284.97 1190.85 287.13 1193 289.6 1195.3 C292.07 1197.6 294.95 1200.03 297.3 1202.4 C299.65 1204.77 301.45 1207.1 303.7 1209.5 C305.95 1211.9 308.55 1214.33 310.8 1216.8 C313.05 1219.27 315 1221.77 317.2 1224.3 C319.4 1226.83 322.17 1229.22 324 1232 C325.83 1234.78 326.75 1238 328.2 1241 C329.65 1244 331 1247.22 332.7 1250 C334.4 1252.78 335.35 1254.42 338.4 1257.7 C341.45 1260.98 347.58 1266.65 351 1269.7 C354.42 1272.75 354.3 1272.65 358.9 1276 C363.5 1279.35 372.85 1285.45 378.6 1289.8 C384.35 1294.15 388.82 1297.52 393.4 1302.1 C397.98 1306.68 402.22 1311.93 406.1 1317.3 C409.98 1322.67 414.2 1329.98 416.7 1334.3 C419.2 1338.62 419.62 1340.22 421.1 1343.2 C422.58 1346.18 424.1 1349.2 425.6 1352.2 C427.1 1355.2 428.5 1358.2 430.1 1361.2 C431.7 1364.2 434 1368.3 435.2 1370.2 C436.4 1372.1 436.95 1372.2 437.3 1372.6 C437.67 1371.87 438.53 1369.45 439.5 1368.2 C440.47 1366.95 441.67 1365.87 443.1 1365.1 C444.53 1364.33 446.52 1363.6 448.1 1363.6 C449.68 1363.6 450.53 1363.72 452.6 1365.1 C454.67 1366.48 457.97 1369.55 460.5 1371.9 C463.03 1374.25 465.27 1376.95 467.8 1379.2 C470.33 1381.45 473.53 1384.13 475.7 1385.4 C477.87 1386.67 479.2 1387 480.8 1386.8 C482.4 1386.6 483.98 1386.32 485.3 1384.2 C486.62 1382.08 487.77 1377.38 488.7 1374.1 C489.63 1370.82 490.07 1367.68 490.9 1364.5 C491.73 1361.32 492.75 1358.18 493.7 1355 C494.65 1351.82 495.28 1348.6 496.6 1345.4 C497.92 1342.2 500.03 1337.82 501.6 1335.8 C503.17 1333.78 504.3 1333.95 506 1333.3 C507.7 1332.65 510.57 1329.62 511.8 1331.9 C513.03 1334.18 512.78 1340.65 513.4 1347 C514.02 1353.35 514.82 1363.17 515.5 1370 C516.18 1376.83 517.17 1385 517.5 1388" fill="none" stroke="#ff0000" stroke-width="3.85" stroke-dasharray="3.85 6.3" clip-path="url(#clipe)" stroke-linejoin="round"/>
<path d="M120.9 1265.9 L122.2 1315.3 L126.5 1317.9 C127.55 1317.67 128.7 1317.33 132.8 1316.5 C136.9 1315.67 144.93 1313.98 151.1 1312.9 C157.27 1311.82 161.67 1310.85 169.8 1310 C177.93 1309.15 188.1 1308.58 199.9 1307.8 C211.7 1307.02 230.28 1305.4 240.6 1305.3 C250.92 1305.2 255.37 1307.03 261.8 1307.2 C268.23 1307.37 268.67 1306.62 279.2 1306.3 C289.73 1305.98 311.72 1305.3 325 1305.3 C338.28 1305.3 346.62 1305.88 358.9 1306.3 C371.18 1306.72 389.07 1307.37 398.7 1307.8 C408.33 1308.23 411.65 1308.5 416.7 1308.9 C421.75 1309.3 425.45 1309.75 429 1310.2 C432.55 1310.65 434.25 1310.9 438 1311.6 C441.75 1312.3 446.25 1313.08 451.5 1314.4 C456.75 1315.72 463.48 1317.43 469.5 1319.5 C475.52 1321.57 481.97 1323.98 487.6 1326.8 C493.23 1329.62 499.93 1334.23 503.3 1336.4 C506.67 1338.57 506.3 1338.4 507.8 1339.8 C509.3 1341.2 511.17 1342.83 512.3 1344.8 C513.43 1346.77 514.02 1348.23 514.6 1351.6 C515.18 1354.97 515.33 1359.4 515.8 1365 C516.27 1370.6 517.13 1381.83 517.4 1385.2" fill="none" stroke="#ff0000" stroke-width="3.85" stroke-dasharray="9.45 9.45" clip-path="url(#clipe)" stroke-linejoin="round"/>
<text x="120.25" y="1422" font-family='"Liberation Serif", serif' font-size="31.6" text-anchor="middle">0.0</text>
<text x="199.78" y="1422" font-family='"Liberation Serif", serif' font-size="31.6" text-anchor="middle">0.2</text>
<text x="279.31" y="1422" font-family='"Liberation Serif", serif' font-size="31.6" text-anchor="middle">0.4</text>
<text x="358.84" y="1422" font-family='"Liberation Serif", serif' font-size="31.6" text-anchor="middle">0.6</text>
<text x="438.37" y="1422" font-family='"Liberation Serif", serif' font-size="31.6" text-anchor="middle">0.8</text>
<text x="517.9" y="1422" font-family='"Liberation Serif", serif' font-size="31.6" text-anchor="middle">1.0</text>
<text transform="translate(316.6 1462.8) scale(1.16 1)" font-family='"Liberation Serif", serif' font-size="28.2" font-style="italic" text-anchor="middle">η</text>
<text x="318.3" y="1508.2" font-family='"Liberation Serif", serif' font-size="28.35" text-anchor="middle">Local lift coefficient</text>
<text x="0.5" y="1065.2" font-family='"Liberation Sans", sans-serif' font-size="34.6" text-anchor="start">(e)</text>
<text x="32.9" y="1137.4" font-family='"Liberation Serif", serif' font-size="31.6" text-anchor="start">0.25</text>
<path d="M100.1 1093.2V1160" stroke="#000" stroke-width="2.5"/>
<path d="M100.1 1089.2 Q97.5 1095.7 93.5 1101.8 L100.1 1097.4 L106.7 1101.8 Q102.7 1095.7 100.1 1089.2Z" fill="#000"/>
<path d="M100.1 1164 Q97.5 1157.5 93.5 1151.4 L100.1 1155.8 L106.7 1151.4 Q102.7 1157.5 100.1 1164Z" fill="#000"/>
<text transform="translate(13.6 1252) rotate(-90)" font-family='"Liberation Serif", serif' font-size="31" font-style="italic">c<tspan font-size="21.7" dy="6">L</tspan></text>
<rect x="673.0" y="1108.1" width="439.2" height="281.9" fill="#fff" stroke="#222" stroke-width="1.7"/>
<path d="M683.9 1133.8H738" fill="none" stroke="#ff0000" stroke-width="3.8" stroke-linejoin="round"/>
<path d="M683.9 1172.8H738" fill="none" stroke="#ff0000" stroke-width="3.8" stroke-dasharray="3.8 6.3" stroke-linejoin="round"/>
<path d="M683.9 1211.3H738" fill="none" stroke="#ff0000" stroke-width="3.8" stroke-dasharray="9.45 9.45" stroke-linejoin="round"/>
<circle cx="711.1" cy="1268.7" r="9.5" fill="#ff0000" stroke="#ff0000" stroke-width="1.25"/>
<rect x="701.6" y="1316.5" width="19" height="19" fill="#ff0000" stroke="#ff0000" stroke-width="1.25"/>
<path d="M711.1 1356.1L719.33 1370.35L702.87 1370.35Z" fill="#ff0000" stroke="#ff0000" stroke-width="1.25"/>
<text x="747.3" y="1142.2" font-family='"Liberation Serif", serif' font-size="31.25" text-anchor="start">without load alleviation</text>
<text x="747.3" y="1180.8" font-family='"Liberation Serif", serif' font-size="31.25" text-anchor="start">with load alleviation</text>
<text x="745.6" y="1219.1" font-family='"Liberation Serif", serif' font-size="31.25" text-anchor="start"><tspan font-style="italic">n</tspan><tspan font-style="italic" font-size="22" dy="6.7">z</tspan><tspan dy="-2.8" dx="10.3" font-size="34.7">=</tspan><tspan dx="10" dy="-3.9">1</tspan></text>
<text x="747.3" y="1255.9" font-family='"Liberation Serif", serif' font-size="31.4" text-anchor="start">Wing-root bending moment</text>
<text x="747.3" y="1295" font-family='"Liberation Serif", serif' font-size="31.25" text-anchor="start">including inertial forces</text>
<text x="747.3" y="1334" font-family='"Liberation Serif", serif' font-size="31.25" text-anchor="start">with load alleviation</text>
<text x="745.6" y="1372.6" font-family='"Liberation Serif", serif' font-size="31.25" text-anchor="start"><tspan font-style="italic">n</tspan><tspan font-style="italic" font-size="22" dy="6.7">z</tspan><tspan dy="-2.8" dx="10.3" font-size="34.7">=</tspan><tspan dx="10" dy="-3.9">1</tspan></text>
</svg></body></html>
